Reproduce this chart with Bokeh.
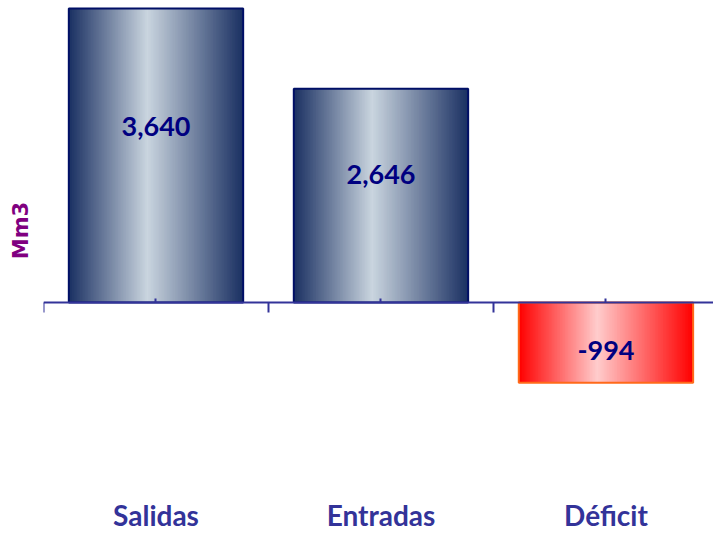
from bokeh.plotting import figure
from bokeh.models import Range1d, LinearAxis, FixedTicker
from bokeh.core.properties import value
from bokeh.embed import file_html
from bokeh.resources import INLINE

# ---- data ----
categories = ["Salidas", "Entradas", "Déficit"]
values = [3640, 2646, -994]
value_labels = ["3,640", "2,646", "-994"]
y_title = "Mm3"

# ---- style ----
BAR_W = 0.775
N_STRIPS = 110
blue_dark = (26, 48, 98)
blue_light = (202, 213, 223)
red_dark = (255, 0, 0)
red_light = (255, 204, 204)
PEAK = 0.45

def grad(c0, c1, t):
    if t <= PEAK:
        f = t / PEAK
    else:
        f = 1 - (t - PEAK) / (1 - PEAK)
    f = max(0.0, min(1.0, f))
    r = [round(c0[k] + (c1[k] - c0[k]) * f) for k in range(3)]
    return "#%02x%02x%02x" % tuple(r)

# frame geometry (pixels): zero line at 302 from top, max bar top at 8
FRAME_H = 460
ZERO_PX = 302
s = (ZERO_PX - 8) / max(values)
y_end = ZERO_PX / s
y_start = -(FRAME_H - ZERO_PX) / s
TITLE_PX = 216                     # vertical centre of the y title
title_mid = (ZERO_PX - TITLE_PX) / s

p = figure(frame_width=670, frame_height=FRAME_H,
           output_backend="svg", toolbar_location=None,
           x_range=Range1d(-0.5, 2.478), y_range=Range1d(y_start, y_end),
           x_axis_location=None, y_axis_location=None,
           min_border_left=43, min_border_right=0, min_border_top=0,
           min_border_bottom=0)
p.outline_line_color = None
p.xgrid.visible = False
p.ygrid.visible = False
p.background_fill_color = "white"

# gradient strips (overlapping to avoid seams)
for i, v in enumerate(values):
    dark, light = (blue_dark, blue_light) if v >= 0 else (red_dark, red_light)
    left = i - BAR_W / 2
    sw = BAR_W / N_STRIPS
    ls, rs, cs = [], [], []
    for k in range(N_STRIPS):
        t = (k + 0.5) / N_STRIPS
        ls.append(left + k * sw)
        rs.append(min(left + (k + 1.8) * sw, left + BAR_W))
        cs.append(grad(dark, light, t))
    top = max(v, 0)
    bot = min(v, 0)
    p.quad(left=ls, right=rs, top=[top] * N_STRIPS, bottom=[bot] * N_STRIPS,
           fill_color=cs, line_color=None)

# outlines
xs = list(range(len(values)))
pos = [i for i, v in enumerate(values) if v >= 0]
neg = [i for i, v in enumerate(values) if v < 0]
p.quad(left=[i - BAR_W / 2 for i in pos], right=[i + BAR_W / 2 for i in pos],
       top=[values[i] for i in pos], bottom=[0] * len(pos),
       fill_color=None, line_color="#000f66", line_width=2)
p.quad(left=[i - BAR_W / 2 for i in neg], right=[i + BAR_W / 2 for i in neg],
       top=[0] * len(neg), bottom=[values[i] for i in neg],
       fill_color=None, line_color="#ff6a1a", line_width=2)

# zero axis with ticks
zero_axis = LinearAxis(fixed_location=0,
                       ticker=FixedTicker(ticks=xs,
                                          minor_ticks=[i - 0.5 for i in xs]))
zero_axis.axis_line_color = "#333399"
zero_axis.axis_line_width = 2
zero_axis.major_tick_line_color = "#333399"
zero_axis.major_tick_line_width = 2
zero_axis.major_tick_in = 4
zero_axis.major_tick_out = 0
zero_axis.minor_tick_line_color = "#333399"
zero_axis.minor_tick_line_width = 2
zero_axis.minor_tick_in = 0
zero_axis.minor_tick_out = 10
zero_axis.major_label_text_font_size = "0px"
zero_axis.major_label_text_alpha = 0
zero_axis.major_label_standoff = 0
p.add_layout(zero_axis, "below")

# category labels axis
cat_axis = LinearAxis(ticker=FixedTicker(ticks=xs, minor_ticks=[]),
                      major_label_overrides={i: c for i, c in enumerate(categories)})
cat_axis.axis_line_color = None
cat_axis.major_tick_line_color = None
cat_axis.minor_tick_line_color = None
cat_axis.major_tick_out = 0
cat_axis.major_tick_in = 0
cat_axis.major_label_text_font = "Lato"
cat_axis.major_label_text_font_style = "bold"
cat_axis.major_label_text_font_size = "28px"
cat_axis.major_label_text_color = "#333399"
cat_axis.major_label_standoff = 37
p.add_layout(cat_axis, "below")

# y title via an empty left axis
y_axis = LinearAxis(ticker=FixedTicker(ticks=[], minor_ticks=[]),
                    axis_label=y_title,
                    bounds=(title_mid - 1000, title_mid + 1000))
y_axis.axis_line_color = None
y_axis.major_tick_out = 0
y_axis.major_tick_in = 0
y_axis.major_label_standoff = 0
y_axis.major_label_text_font_size = "0px"
y_axis.axis_label_standoff = 11
y_axis.axis_label_text_font = "DejaVu Sans"
y_axis.axis_label_text_font_style = "bold"
y_axis.axis_label_text_font_size = "21px"
y_axis.axis_label_text_color = "#800080"
p.add_layout(y_axis, "left")

# value labels
p.text(x=xs, y=[v * 0.6 for v in values], text=value_labels,
       text_font=value("Lato"), text_font_style="bold", text_font_size="27px",
       text_color="#000080", text_align="center", text_baseline="middle")

open("out.html", "w").write(file_html(p, INLINE))
